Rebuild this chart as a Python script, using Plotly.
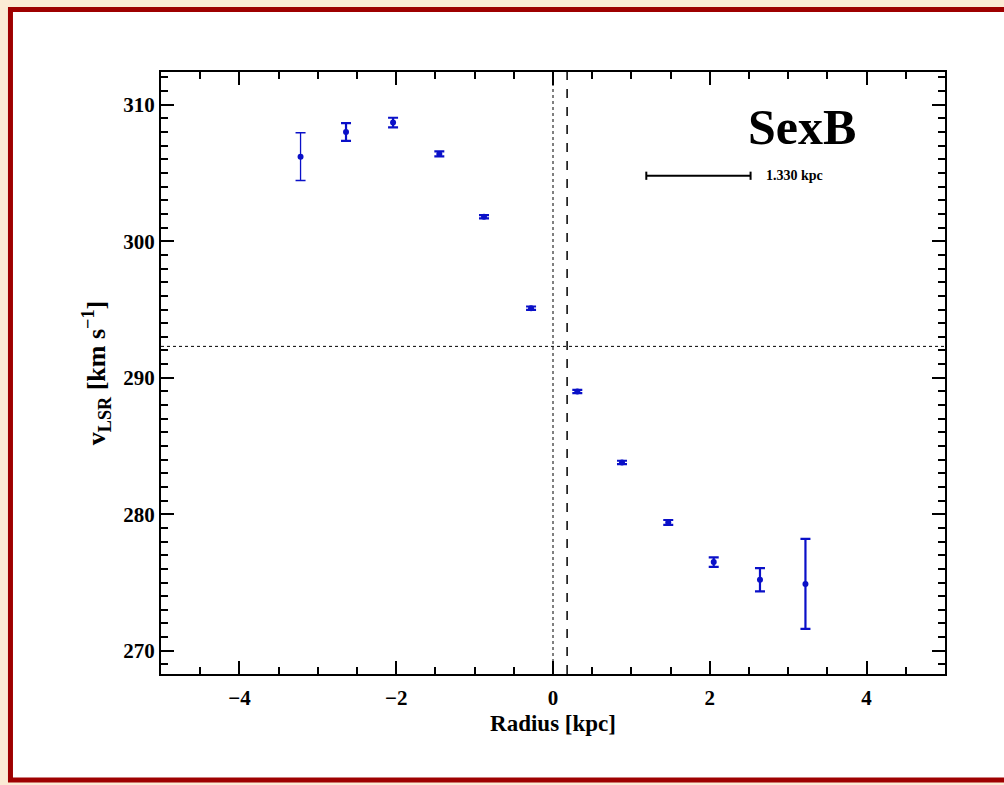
import plotly.graph_objects as go

# Rotation curve of Sextans B: radius [kpc] vs. line-of-sight velocity [km/s]
radius = [-3.22, -2.64, -2.04, -1.45, -0.88, -0.28, 0.31, 0.88, 1.47, 2.05, 2.64, 3.22]
v_lsr = [306.2, 308.0, 308.7, 306.4, 301.8, 295.1, 289.0, 283.8, 279.4, 276.5, 275.2, 274.9]
v_err = [1.75, 0.65, 0.35, 0.18, 0.12, 0.12, 0.12, 0.12, 0.18, 0.35, 0.85, 3.3]

v_sys = 292.3          # systemic velocity (horizontal dotted line)
r_center = 0.18        # kinematic centre offset (dashed line)
scale_kpc = 1.330      # scale bar length
scale_x0 = 1.19
scale_y = 304.8

BLUE = "#0a10c8"
FONT = "Liberation Serif"

fig = go.Figure()

# outermost point drawn with a thin error bar, the rest with thick ones
fig.add_trace(go.Scatter(
    x=radius[:1], y=v_lsr[:1], mode="markers",
    marker=dict(color=BLUE, size=6),
    error_y=dict(type="data", array=v_err[:1], color=BLUE, thickness=1.3, width=5),
    showlegend=False,
))
fig.add_trace(go.Scatter(
    x=radius[1:], y=v_lsr[1:], mode="markers",
    marker=dict(color=BLUE, size=6),
    error_y=dict(type="data", array=v_err[1:], color=BLUE, thickness=2.2, width=5),
    showlegend=False,
))

# reference lines
fig.add_hline(y=v_sys, line=dict(color="black", width=1, dash="dot"))
fig.add_vline(x=0, line=dict(color="black", width=1, dash="dot"))
fig.add_vline(x=r_center, line=dict(color="black", width=1.5, dash="dash"))

# scale bar
fig.add_trace(go.Scatter(
    x=[scale_x0, scale_x0 + scale_kpc], y=[scale_y, scale_y], mode="lines",
    line=dict(color="black", width=2), showlegend=False, hoverinfo="skip",
))
for xe in (scale_x0, scale_x0 + scale_kpc):
    fig.add_shape(type="line", xref="x", yref="y", x0=xe, x1=xe,
                  y0=scale_y - 0.3, y1=scale_y + 0.3,
                  line=dict(color="black", width=2))
fig.add_annotation(x=scale_x0 + scale_kpc + 0.17, y=scale_y, xref="x", yref="y",
                   text="<b>1.330 kpc</b>", showarrow=False, xanchor="left",
                   font=dict(family=FONT, size=14, color="black"))

fig.add_annotation(x=3.17, y=308.4, xref="x", yref="y", text="<b>SexB</b>",
                   showarrow=False, xanchor="center", yanchor="middle",
                   font=dict(family=FONT, size=50, color="black"))

# page frame: white panel inside a dark red border on a cream background
fig.add_shape(type="rect", xref="paper", yref="paper", layer="below",
              x0=-0.192, x1=1.085, y0=-0.176, y1=1.104,
              fillcolor="white", line=dict(color="#9e0000", width=5))

axis_common = dict(
    showline=True, linecolor="black", linewidth=2, mirror="allticks",
    ticks="inside", ticklen=13, tickwidth=2, tickcolor="black",
    showgrid=False, zeroline=False,
    tickfont=dict(family=FONT, size=21, color="black"),
    minor=dict(ticks="inside", ticklen=7, tickwidth=2, tickcolor="black", showgrid=False),
)

fig.update_xaxes(
    range=[-5, 5], tickmode="array", tickvals=[-4, -2, 0, 2, 4],
    ticktext=["<b>−4</b>", "<b>−2</b>", "<b>0</b>", "<b>2</b>", "<b>4</b>"],
    minor_dtick=0.5, ticklabelstandoff=4,
    title=dict(text="<b>Radius [kpc]</b>", font=dict(family=FONT, size=23, color="black"),
               standoff=6),
    **axis_common,
)
fig.update_yaxes(
    range=[268.3, 312.4], tickmode="array", tickvals=[270, 280, 290, 300, 310],
    ticktext=["<b>270</b>", "<b>280</b>", "<b>290</b>", "<b>300</b>", "<b>310</b>"],
    minor_dtick=1,
    title=dict(text="<b>v<sub>LSR</sub> [km s<sup>−1</sup>]</b>",
               font=dict(family=FONT, size=26, color="black"), standoff=10),
    **axis_common,
)

fig.update_layout(
    width=1004, height=785,
    margin=dict(l=161, r=59, t=72, b=111),
    paper_bgcolor="#fbebd5", plot_bgcolor="white",
    showlegend=False,
)

fig.write_html("out.html")
